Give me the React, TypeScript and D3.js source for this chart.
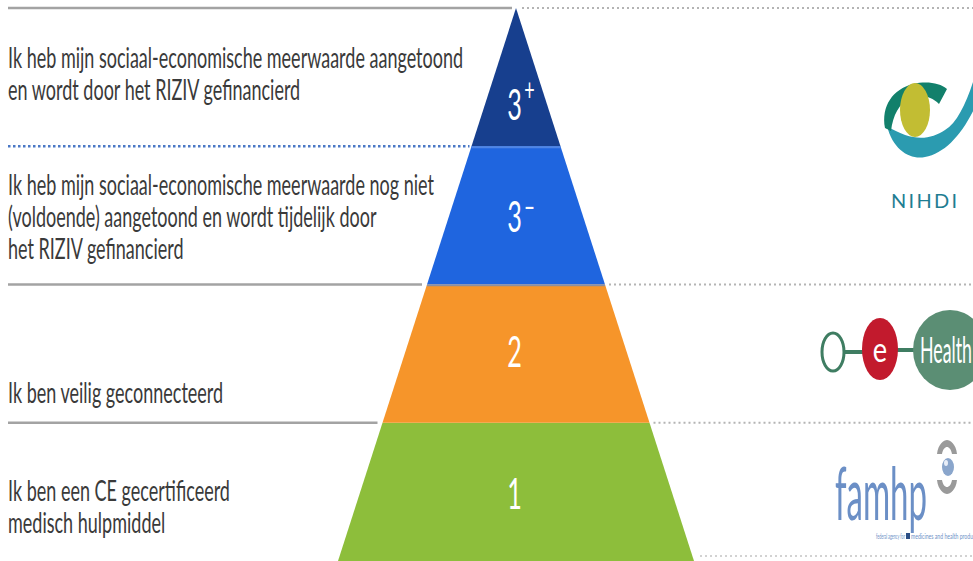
import React, { useLayoutEffect, useRef, useState } from "react";
import * as d3 from "d3";

const W = 973;
const H = 561;

// ---- data ----
const tierDigits = ["1", "2", "3", "3"];
const tierSigns = ["", "", "\u2212", "+"];
const tierDescriptions = [
  ["Ik ben een CE gecertificeerd", "medisch hulpmiddel"],
  ["Ik ben veilig geconnecteerd"],
  [
    "Ik heb mijn sociaal-economische meerwaarde nog niet",
    "(voldoende) aangetoond en wordt tijdelijk door",
    "het RIZIV gefinancierd",
  ],
  [
    "Ik heb mijn sociaal-economische meerwaarde aangetoond",
    "en wordt door het RIZIV gefinancierd",
  ],
];

// ---- styles / layout ----
const tierColors = ["#8dbe3b", "#f6952a", "#1f65df", "#173f8e"];
const descFirstBaseline = [78, 118.5, 49, 60];
const labelDy = [17, 13, 17, 43];
const textColor = "#3a3a3a";
const FONT = "Lato, 'Noto Sans', sans-serif";

export default function App() {
  const cx = 516;
  const y = d3.scaleLinear().domain([0, 4]).range([561, 8]);
  const half = d3.scaleLinear().domain([0, 4]).range([178, 0]);
  const levels = d3.range(tierDigits.length);

  const measureRef = useRef<SVGTextElement>(null);
  const [sx, setSx] = useState(0.7);
  useLayoutEffect(() => {
    const el = measureRef.current;
    if (el) {
      const w = el.getComputedTextLength();
      if (w > 0) setSx(455 / w);
    }
  }, []);

  const lineH = 32;
  const fs = 28;

  return (
    <svg
      width={W}
      height={H}
      style={{ position: "absolute", left: 0, top: 0, display: "block", background: "#fff" }}
      fontFamily={FONT}
    >
      {/* pyramid bands */}
      {levels.map((i) => {
        const yb = y(i), yt = y(i + 1);
        const hb = half(i), ht = half(i + 1);
        const p = d3.path();
        p.moveTo(cx - hb, yb);
        p.lineTo(cx + hb, yb);
        p.lineTo(cx + ht, yt);
        if (ht > 0) p.lineTo(cx - ht, yt);
        p.closePath();
        return <path key={"b" + i} d={p.toString()} fill={tierColors[i]} />;
      })}
      {/* inner band separators */}
      <line x1={cx - half(3)} x2={cx + half(3)} y1={y(3) + 1} y2={y(3) + 1} stroke="#4f86e6" strokeWidth={2} />
      <line x1={cx - half(2)} x2={cx + half(2)} y1={y(2) + 1} y2={y(2) + 1} stroke="#8a8fa0" strokeWidth={1.5} />

      {/* left lines */}
      {[1, 2, 3, 4].map((lv) => {
        const yy = y(lv);
        const xEnd = cx - half(lv) - (lv === 4 ? 4 : lv === 3 ? 2 : 5);
        if (lv === 3) {
          return (
            <line key={"l" + lv} x1={8} x2={xEnd} y1={yy} y2={yy} stroke="#4a78c6" strokeWidth={2.5} strokeDasharray="2.5 2.5" />
          );
        }
        return <line key={"l" + lv} x1={8} x2={xEnd} y1={yy} y2={yy} stroke="#a3a3a3" strokeWidth={2.5} />;
      })}
      {/* right dotted lines */}
      {[1, 2, 4].map((lv) => {
        const yy = y(lv);
        const xs = cx + half(lv) + (lv === 4 ? 6 : 4);
        return (
          <line key={"r" + lv} x1={xs} x2={W} y1={yy} y2={yy} stroke="#b4b4b4" strokeWidth={2} strokeDasharray="2 3" />
        );
      })}
      <line x1={700} x2={W} y1={556} y2={556} stroke="#c4c4c4" strokeWidth={1.5} strokeDasharray="2 3" />

      {/* descriptions */}
      {levels.map((i) => {
        const top = y(i + 1);
        return (
          <g key={"d" + i} transform={`translate(8,0) scale(${sx},1)`}>
            {tierDescriptions[i].map((line, k) => (
              <text
                key={k}
                ref={i === 3 && k === 0 ? measureRef : undefined}
                x={0}
                y={top + descFirstBaseline[i] + k * lineH}
                fontSize={fs}
                fill={textColor}
              >
                {line}
              </text>
            ))}
          </g>
        );
      })}

      {/* tier labels */}
      {levels.map((i) => {
        const yc = (y(i) + y(i + 1)) / 2 + labelDy[i];
        return (
          <g key={"t" + i} transform={`translate(${cx - 1.5},${yc}) scale(0.6,1)`}>
            <text x={0} y={0} textAnchor="middle" fontSize={42} fill="#fff">
              {tierDigits[i]}
            </text>
            {tierSigns[i] && (
              <text
                x={25}
                y={tierSigns[i] === "+" ? -19 : -14}
                textAnchor="middle"
                fontSize={30}
                fill="#fff"
              >
                {tierSigns[i]}
              </text>
            )}
          </g>
        );
      })}

      {/* NIHDI logo */}
      <g>
        <path
          d="M887,126 C893,150 910,160 925,157 C945,153 962,135 976,105 L976,72 C968,100 958,122 945,130 C930,140 912,142 887,126 Z"
          fill="#2b9bb0"
        />
        <path
          d="M885,128 C881,106 893,89 913,84 C927,81 940,83 947,89 L939,104 C931,96 920,94 910,98 C899,104 893,115 891,131 Z"
          fill="#12806b"
        />
        <ellipse cx={915} cy={110} rx={15} ry={27} fill="#c2bd33" />
        <text x={924} y={208} textAnchor="middle" fontSize={20} fill="#1f7d92" textLength={66} lengthAdjust="spacing">
          NIHDI
        </text>
      </g>

      {/* eHealth logo */}
      <g>
        <line x1={843} x2={864} y1={352} y2={352} stroke="#3f7d62" strokeWidth={4} />
        <line x1={896} x2={916} y1={350} y2={350} stroke="#3f7d62" strokeWidth={4} />
        <ellipse cx={833} cy={352} rx={11} ry={19} fill="#fff" stroke="#3f7d62" strokeWidth={3} />
        <ellipse cx={880} cy={349} rx={18} ry={31} fill="#c21a2d" />
        <g transform="translate(880,362) scale(0.8,1)">
          <text x={0} y={0} textAnchor="middle" fontSize={34} fill="#fff">e</text>
        </g>
        <ellipse cx={950} cy={350} rx={37} ry={40} fill="#5b8e74" />
        <text x={920} y={363} fontSize={36} fill="#fff" textLength={52} lengthAdjust="spacingAndGlyphs">
          Health
        </text>
      </g>

      {/* famhp logo */}
      <g>
        <text x={835} y={520} fontSize={74} fill="#6b8fc6" textLength={92} lengthAdjust="spacingAndGlyphs">
          famhp
        </text>
        <path d="M937,454 C938,444 944,440 947,440 C950,440 956,444 957,454 L952,454 C951,449 949,447 947,447 C945,447 943,449 942,454 Z" fill="#9a9a9a" />
        <path d="M937,480 C938,490 944,494 947,494 C950,494 956,490 957,480 L952,480 C951,485 949,487 947,487 C945,487 943,485 942,480 Z" fill="#9a9a9a" />
        <ellipse cx={948} cy={467} rx={6} ry={9} fill="#8aa6cc" />
        <ellipse cx={946} cy={463} rx={2} ry={3} fill="#e8eef8" />
        <text x={876} y={539} fontSize={7} fill="#6b8fc6" textLength={29} lengthAdjust="spacingAndGlyphs">
          federal agency for
        </text>
        <rect x={906} y={533} width={4} height={6} fill="#2c4f86" />
        <text x={911} y={539} fontSize={7} fill="#6b8fc6" textLength={62} lengthAdjust="spacingAndGlyphs">
          medicines and health produ
        </text>
      </g>
    </svg>
  );
}
